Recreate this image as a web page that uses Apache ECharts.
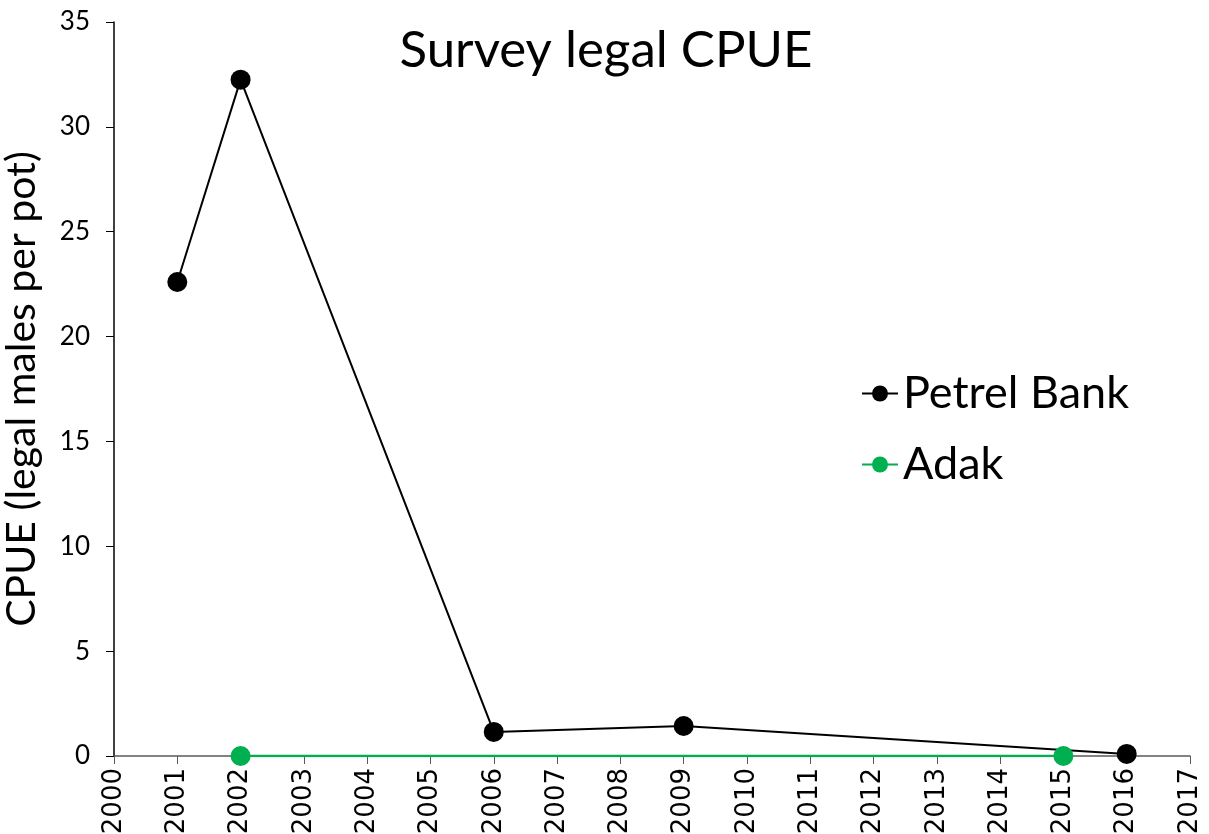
<!DOCTYPE html>
<html>
<head>
<meta charset="utf-8">
<script src="https://cdn.jsdelivr.net/npm/echarts@6/dist/echarts.min.js"></script>
<style>
  html, body { margin: 0; padding: 0; background: #fff; }
  #chart { width: 1209px; height: 834px; }
</style>
</head>
<body>
<div id="chart"></div>
<script>
// data
const petrelYears = [2001, 2002, 2006, 2009, 2016]
const petrelCpue = [22.6, 32.25, 1.15, 1.43, 0.1]
const adakYears = [2002, 2015]
const adakCpue = [0, 0]

const font = 'Lato, "Open Sans", sans-serif'

const myEcharts = echarts.init(document.getElementById('chart'))
myEcharts.setOption({
  animation: false,
  title: {
    text: 'Survey legal CPUE',
    left: 601,
    top: 20,
    textAlign: 'center',
    textStyle: { fontFamily: font, fontSize: 51, fontWeight: 'normal', color: '#000' },
  },
  legend: {
    orient: 'vertical',
    left: 856,
    top: 366,
    itemGap: 26,
    itemWidth: 36,
    itemHeight: 20,
    textStyle: { fontFamily: font, fontSize: 45, color: '#000' },
    data: ['Petrel Bank', 'Adak'],
  },
  grid: { left: 114, right: 19, top: 22, bottom: 78, outerBoundsMode: 'none', containLabel: false },
  xAxis: {
    type: 'value',
    min: 2000,
    max: 2017,
    interval: 1,
    splitLine: { show: false },
    axisLine: { lineStyle: { color: '#595959', width: 1.5 } },
    axisTick: { show: true, inside: false, length: 8, lineStyle: { color: '#595959' } },
    axisLabel: {
      rotate: 90,
      margin: 12,
      fontFamily: '"DejaVu Sans", sans-serif',
      fontSize: 26,
      color: '#000',
      formatter: v => String(v),
    },
  },
  yAxis: {
    type: 'value',
    min: 0,
    max: 35,
    interval: 5,
    name: 'CPUE (legal males per pot)',
    nameLocation: 'middle',
    nameGap: 72,
    nameTextStyle: { fontFamily: font, fontSize: 41, color: '#000' },
    splitLine: { show: false },
    axisLine: { show: true, lineStyle: { color: '#000', width: 1.5 } },
    axisTick: { show: true, length: 8, lineStyle: { color: '#000' } },
    axisLabel: { fontFamily: font, fontSize: 26, color: '#000', margin: 24 },
  },
  series: [
    {
      name: 'Petrel Bank',
      type: 'line',
      data: petrelYears.map((y, i) => [y, petrelCpue[i]]),
      symbol: 'circle',
      symbolSize: 20,
      lineStyle: { color: '#000', width: 2 },
      itemStyle: { color: '#000' },
    },
    {
      name: 'Adak',
      type: 'line',
      data: adakYears.map((y, i) => [y, adakCpue[i]]),
      symbol: 'circle',
      symbolSize: 20,
      lineStyle: { color: '#00B050', width: 2.5 },
      itemStyle: { color: '#00B050' },
    },
  ],
})
</script>
</body>
</html>
